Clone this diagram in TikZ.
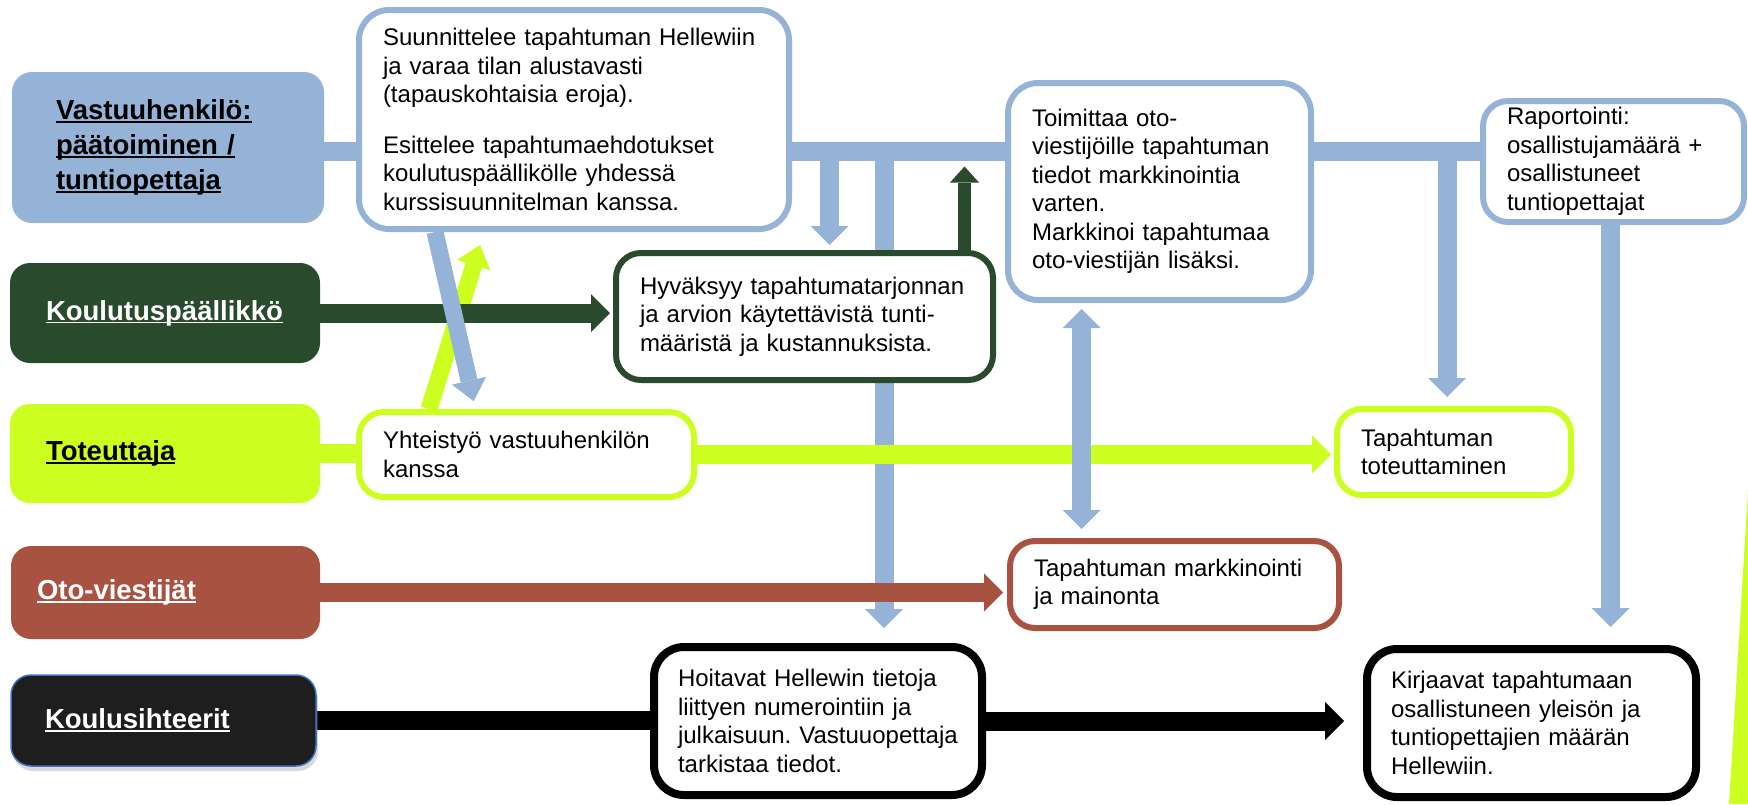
\documentclass[tikz,border=0pt]{standalone}
\usepackage{fontspec}
\setmainfont{Liberation Sans}
\usepackage{tikz}
\usetikzlibrary{arrows.meta,backgrounds,calc,shadows,positioning}

\definecolor{vastuublue}{HTML}{95B3D7}
\definecolor{koulugreen}{HTML}{294A2D}
\definecolor{totlime}{HTML}{CCFF1F}
\definecolor{otobrown}{HTML}{A85242}
\definecolor{sihtblack}{HTML}{1E1E1E}
\definecolor{sihtedge}{HTML}{4472C4}

\newcommand{\roleul}[1]{\leavevmode\setbox0\hbox{#1}\rlap{\rule[-3pt]{\wd0}{1.6pt}}\box0}
\frenchspacing

\tikzset{
  role/.style={rounded corners=20pt, align=left, inner ysep=0pt,
    font=\fontsize{27.5}{35}\selectfont\bfseries},
  taskbox/.style={draw, fill=white, rounded corners=25pt, line width=6pt,
    align=left, inner xsep=24pt, inner ysep=0pt,
    font=\fontsize{24}{28.5}\selectfont},
  flow/.style={line width=19pt},
  thinflow/.style={line width=17pt},
  flowtip/.style={-{Triangle[length=19pt,width=38pt,line width=0pt]}},
  smalltip/.style={-{Triangle[length=16pt,width=29pt,line width=0pt]}},
  bothtips/.style={{Triangle[length=19pt,width=38pt,line width=0pt]}-{Triangle[length=19pt,width=38pt,line width=0pt]}},
}

\begin{document}
\begin{tikzpicture}[x=1pt,y=-1pt]
\useasboundingbox (0,0) rectangle (1748,804);

% roolit
\node[role, fill=vastuublue, text width=224pt, inner xsep=44pt, minimum height=151pt] (vastuu) at (168,147.5)
  {\roleul{Vastuuhenkilö:}\\\roleul{päätoiminen /}\\\roleul{tuntiopettaja}};
\node[role, fill=koulugreen, text=white, text width=238pt, inner xsep=36pt, minimum height=100pt] (koulutus) at (165,313)
  {\roleul{Koulutuspäällikkö}};
\node[role, fill=totlime, text width=238pt, inner xsep=36pt, minimum height=99pt] (toteuttaja) at (165,453.5)
  {\roleul{Toteuttaja}};
\node[role, fill=otobrown, text=white, text width=257pt, inner xsep=26pt, minimum height=93pt] (oto) at (165.5,592.5)
  {\roleul{Oto-viestijät}};
\node[role, fill=sihtblack, draw=sihtedge, line width=1.5pt, text=white, text width=237pt, inner xsep=34pt, minimum height=91pt,
  drop shadow={shadow xshift=2pt, shadow yshift=-5pt, opacity=0.3}] (sihteeri) at (163.5,720.5)
  {\roleul{Koulusihteerit}};

% tehtavat
\node[taskbox, draw=vastuublue, rounded corners=30pt, text width=382pt, minimum height=219pt] (plan) at (574,119.5)
  {Suunnittelee tapahtuman Hellewiin\\ja varaa tilan alustavasti\\(tapauskohtaisia eroja).\\[22pt]Esittelee tapahtumaehdotukset\\koulutuspäällikölle yhdessä\\kurssisuunnitelman kanssa.};
\node[taskbox, draw=koulugreen, text width=329pt, minimum height=127pt] (approve) at (804.5,316.5)
  {Hyväksyy tapahtumatarjonnan\\ja arvion käytettävistä tunti-\\määristä ja kustannuksista.};
\node[taskbox, draw=vastuublue, rounded corners=30pt, text width=255pt, minimum height=217pt] (deliver) at (1159.5,191.5)
  {Toimittaa oto-\\viestijöille tapahtuman\\tiedot markkinointia\\varten.\\Markkinoi tapahtumaa\\oto-viestijän lisäksi.};
\node[taskbox, draw=vastuublue, text width=213pt, minimum height=121pt] (report) at (1613.5,161.5)
  {Raportointi:\\osallistujamäärä +\\osallistuneet\\tuntiopettajat};
\node[taskbox, draw=totlime, text width=287pt, minimum height=85pt] (coop) at (526.5,454.5)
  {Yhteistyö vastuuhenkilön\\kanssa};
\node[taskbox, draw=totlime, text width=186pt, minimum height=86pt] (execute) at (1454,452)
  {Tapahtuman\\toteuttaminen};
\node[taskbox, draw=otobrown, text width=281pt, minimum height=87pt] (market) at (1174.5,584.5)
  {Tapahtuman markkinointi\\ja mainonta};
\node[taskbox, draw=black, line width=8pt, rounded corners=30pt, text width=280pt, minimum height=148pt] (manage) at (818,721)
  {Hoitavat Hellewin tietoja\\liittyen numerointiin ja\\\mbox{julkaisuun. Vastuuopettaja}\\tarkistaa tiedot.};
\node[taskbox, draw=black, line width=8pt, rounded corners=30pt, text width=281pt, minimum height=148pt,
  drop shadow={shadow xshift=1pt, shadow yshift=-3pt, opacity=0.2}] (record) at (1531.5,723)
  {Kirjaavat tapahtumaan\\osallistuneen yleisön ja\\tuntiopettajien määrän\\Hellewiin.};

\begin{scope}[on background layer]
% vastuuhenkilon linja
\coordinate (busW) at ([yshift=-4pt]vastuu.east);
\draw[flow, vastuublue] (busW) -- (busW -| report.west);
\coordinate (dropA) at ([xshift=25pt]approve.north);
\draw[flow, flowtip, vastuublue, shorten >=5pt] (dropA |- busW) -- (dropA);
\coordinate (dropB) at ([xshift=66pt]manage.north);
\draw[flow, flowtip, vastuublue, shorten >=15pt] (dropB |- busW) -- (dropB);
\coordinate (dropC) at ([xshift=-7pt]execute.north);
\draw[flow, flowtip, vastuublue, shorten >=9pt] (dropC |- busW) -- (dropC);
\coordinate (dropE) at ([xshift=-3pt]report.south);
\draw[flow, flowtip, vastuublue, shorten >=18pt] (dropE) -- (dropE |- record.north);

% toteuttaja
\draw[flow, totlime] (toteuttaja.east) -- (toteuttaja.east -| coop.west);
\draw[flow, flowtip, totlime, shorten >=3pt] (coop.east) -- (coop.east -| execute.west);
\coordinate (coopUp) at ([xshift=-97.5pt]coop.north);
\coordinate (planTip) at ([xshift=-94pt,yshift=-13pt]plan.south);
\draw[thinflow, totlime, -{Triangle[length=21pt,width=35pt,line width=0pt]}] (coopUp) -- (planTip);

% markkinointitiedot
\coordinate (linkT) at ([xshift=-78pt]deliver.south);
\draw[flow, bothtips, vastuublue, shorten <=6pt, shorten >=9pt] (linkT) -- (linkT |- market.north);

% koulutuspaallikko
\draw[flow, flowtip, koulugreen, shorten >=3pt] (koulutus.east) -- (koulutus.east -| approve.west);
\coordinate (greenUp) at ([xshift=160pt]approve.north);
\draw[line width=13pt, smalltip, koulugreen, shorten >=15pt] (greenUp) -- (greenUp |- busW);

% vino nuoli
\coordinate (planDown) at ([xshift=-139pt]plan.south);
\coordinate (coopTip) at ([xshift=-51pt]coop.north);
\draw[thinflow, vastuublue, -{Triangle[length=21pt,width=35pt,line width=0pt]}, shorten >=8pt] (planDown) -- (coopTip);

% oto-viestijat ja sihteerit
\draw[flow, flowtip, otobrown, shorten >=4pt] (oto.east) -- (oto.east -| market.west);
\draw[flow, black] (sihteeri.east) -- (sihteeri.east -| manage.west);
\draw[flow, flowtip, black, shorten >=19pt] (manage.east) -- (manage.east -| record.west);
\end{scope}

\fill[totlime] (1748,490) -- (1729,804) -- (1748,804) -- cycle;
\end{tikzpicture}
\end{document}
